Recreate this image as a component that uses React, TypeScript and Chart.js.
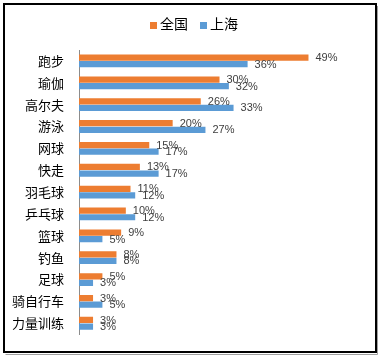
import React, { useEffect, useRef } from "react";
import { Chart, registerables } from "chart.js";

Chart.register(...registerables);

const categories = ["跑步", "瑜伽", "高尔夫", "游泳", "网球", "快走", "羽毛球", "乒乓球", "篮球", "钓鱼", "足球", "骑自行车", "力量训练"];
const nationalValues = [49, 30, 26, 20, 15, 13, 11, 10, 9, 8, 5, 3, 3];
const shanghaiValues = [36, 32, 33, 27, 17, 17, 12, 12, 5, 8, 3, 5, 3];
const seriesNames = ["全国", "上海"];
const seriesColors = ["#ED7D31", "#5B9BD5"];

const frame = {
  id: "frame",
  beforeDraw(chart: any) {
    const ctx = chart.ctx;
    ctx.save();
    ctx.fillStyle = "#ffffff";
    ctx.fillRect(0, 0, chart.width, chart.height);
    ctx.strokeStyle = "#000000";
    ctx.lineWidth = 2;
    ctx.strokeRect(4, 4, 372, 348);
    ctx.strokeStyle = "#a0a0a0";
    ctx.lineWidth = 1;
    ctx.beginPath();
    ctx.moveTo(5.5, 354.5);
    ctx.lineTo(377.5, 354.5);
    ctx.lineTo(377.5, 6);
    ctx.stroke();
    ctx.restore();
  },
};

const customLegend = {
  id: "customLegend",
  afterDraw(chart: any) {
    const ctx = chart.ctx;
    ctx.save();
    ctx.font = "14px 'Noto Sans CJK SC', sans-serif";
    ctx.textBaseline = "middle";
    ctx.textAlign = "left";
    let x = 150;
    chart.data.datasets.forEach((ds: any, i: number) => {
      ctx.fillStyle = seriesColors[i];
      ctx.fillRect(x, 22, 7, 7);
      ctx.fillStyle = "#000000";
      ctx.fillText(ds.label, x + 10, 24);
      x += 10 + ctx.measureText(ds.label).width + 12;
    });
    ctx.restore();
  },
};

const valueLabels = {
  id: "valueLabels",
  afterDatasetsDraw(chart: any) {
    const ctx = chart.ctx;
    ctx.save();
    ctx.font = "11px 'Liberation Sans', Arial, sans-serif";
    ctx.fillStyle = "#404040";
    ctx.textAlign = "left";
    ctx.textBaseline = "middle";
    chart.data.datasets.forEach((ds: any, di: number) => {
      const meta = chart.getDatasetMeta(di);
      meta.data.forEach((bar: any, i: number) => {
        ctx.fillText(ds.data[i] + "%", bar.x + 7, bar.y + 0.5);
      });
    });
    ctx.restore();
  },
};

export default function App() {
  const ref = useRef<HTMLCanvasElement>(null);
  useEffect(() => {
    const chart = new Chart(ref.current!, {
      type: "bar",
      data: {
        labels: categories,
        datasets: [
          {
            label: seriesNames[0],
            data: nationalValues,
            backgroundColor: seriesColors[0],
            categoryPercentage: 0.6,
            barPercentage: 0.95,
          },
          {
            label: seriesNames[1],
            data: shanghaiValues,
            backgroundColor: seriesColors[1],
            categoryPercentage: 0.6,
            barPercentage: 0.95,
          },
        ],
      },
      options: {
        indexAxis: "y",
        animation: false,
        responsive: false,
        layout: { padding: { top: 50, bottom: 20, right: 20, left: 0 } },
        plugins: {
          legend: { display: false },
          tooltip: { enabled: false },
        },
        scales: {
          x: {
            display: false,
            min: 0,
            max: 60,
          },
          y: {
            grid: { display: false, drawTicks: false },
            border: { display: true, color: "#8c8c8c", width: 1 },
            ticks: {
              color: "#000000",
              padding: 15,
              font: { size: 13, family: "'Noto Sans CJK SC', sans-serif" },
            },
            afterFit(scale: any) {
              scale.width = 79;
            },
          },
        },
      },
      plugins: [frame, customLegend, valueLabels],
    });
    return () => chart.destroy();
  }, []);
  return (
    <div style={{ position: "fixed", left: 0, top: 0, width: 380, height: 357 }}>
      <canvas ref={ref} width={380} height={357} style={{ display: "block" }} />
    </div>
  );
}
